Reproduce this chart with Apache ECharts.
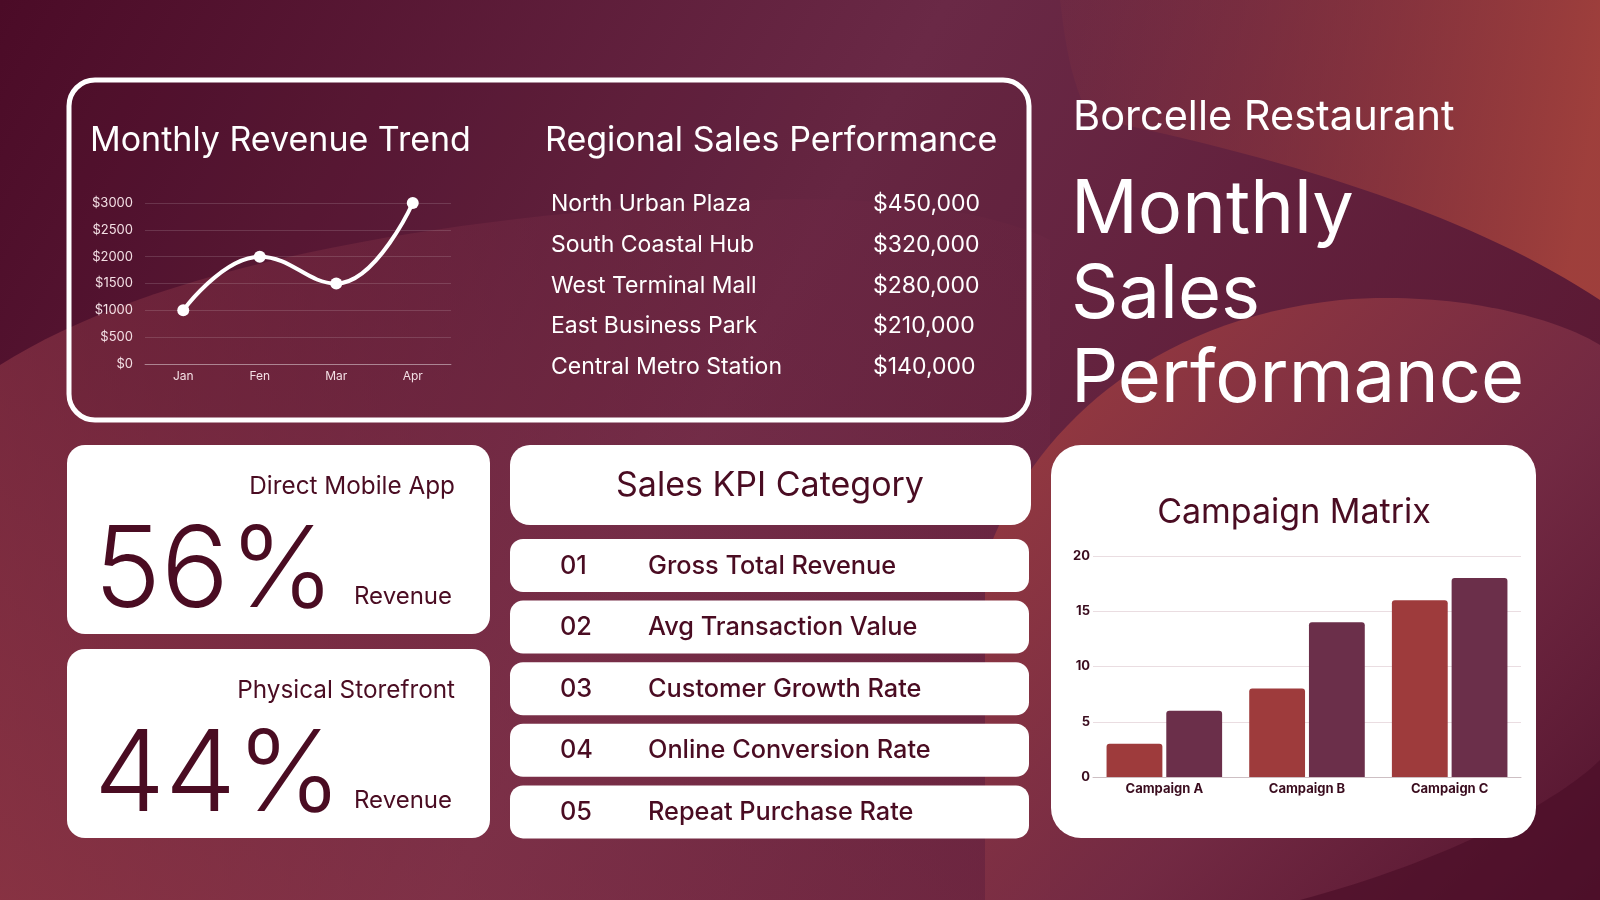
<!DOCTYPE html>
<html>
<head>
<meta charset="utf-8">
<title>Monthly Sales Performance</title>
<script src="https://cdn.jsdelivr.net/npm/echarts@6/dist/echarts.min.js"></script>
<style>
  html, body { margin: 0; padding: 0; background: #5a1a33; }
  #main { width: 1600px; height: 900px; }
</style>
</head>
<body>
<div id="main"></div>
<script>
// chart data
var months = ['Jan', 'Fen', 'Mar', 'Apr'];
var revenue = [1000, 2000, 1500, 3000];

var regions = ['North Urban Plaza', 'South Coastal Hub', 'West Terminal Mall', 'East Business Park', 'Central Metro Station'];
var regionSales = [450000, 320000, 280000, 210000, 140000];

var channels = ['Direct Mobile App', 'Physical Storefront'];
var channelShare = [56, 44];

var kpiNumbers = ['01', '02', '03', '04', '05'];
var kpiNames = ['Gross Total Revenue', 'Avg Transaction Value', 'Customer Growth Rate', 'Online Conversion Rate', 'Repeat Purchase Rate'];

var campaigns = ['Campaign A', 'Campaign B', 'Campaign C'];
var campaignRed = [3, 8, 16];
var campaignPurple = [6, 14, 18];

var FONT = 'Inter, "Noto Sans", sans-serif';
var DARK = '#4a0c22';

// simple shape for the background waves: list of [cmd, ...coords]
echarts.graphic.registerShape('wave', echarts.graphic.extendShape({
  shape: { segs: [] },
  buildPath: function (ctx, shape) {
    shape.segs.forEach(function (s) {
      if (s[0] === 'M') ctx.moveTo(s[1], s[2]);
      else if (s[0] === 'L') ctx.lineTo(s[1], s[2]);
      else if (s[0] === 'C') ctx.bezierCurveTo(s[1], s[2], s[3], s[4], s[5], s[6]);
    });
    ctx.closePath();
  }
}));

var myChart = echarts.init(document.getElementById('main'));

function txt(x, y, text, size, color, align, weight) {
  return {
    type: 'text', x: x, y: y, z: 10,
    style: {
      text: text, fill: color, fontSize: size, fontFamily: FONT,
      fontWeight: weight || 400, textAlign: align || 'left', textVerticalAlign: 'middle'
    }
  };
}
function card(x, y, w, h, r, z) {
  return { type: 'rect', z: z, shape: { x: x, y: y, width: w, height: h, r: r }, style: { fill: '#ffffff' } };
}
function wave(segs, fill, z) {
  return { type: 'wave', z: z, silent: true, shape: { segs: segs }, style: { fill: fill } };
}

var graphics = [];

// background
graphics.push({
  type: 'rect', z: -10, shape: { x: 0, y: 0, width: 1600, height: 900 },
  style: { fill: new echarts.graphic.LinearGradient(0, 0, 1, 1, [
    { offset: 0, color: '#4b0b27' },
    { offset: 0.45, color: '#6a2946' },
    { offset: 1, color: '#56142e' }
  ]) }
});
graphics.push(wave([['M', 0, 365], ['C', 150, 270, 420, 215, 760, 200], ['C', 900, 195, 1000, 215, 1050, 240], ['L', 1050, 900], ['L', 0, 900]],
  new echarts.graphic.LinearGradient(0, 1, 1, 0, [
    { offset: 0, color: 'rgba(150,58,70,0.75)' },
    { offset: 1, color: 'rgba(120,45,75,0.15)' }
  ]), -9));
graphics.push(wave([['M', 1060, 0], ['L', 1600, 0], ['L', 1600, 300], ['C', 1480, 220, 1300, 160, 1090, 118], ['C', 1070, 80, 1065, 40, 1060, 0]],
  new echarts.graphic.LinearGradient(0, 0, 1, 0.3, [
    { offset: 0, color: 'rgba(140,55,65,0.15)' },
    { offset: 1, color: 'rgba(162,65,60,0.95)' }
  ]), -9));
graphics.push(wave([['M', 985, 560], ['C', 1030, 430, 1150, 320, 1340, 300], ['C', 1460, 290, 1560, 320, 1600, 345], ['L', 1600, 900], ['L', 985, 900]],
  new echarts.graphic.LinearGradient(0, 0, 1, 1, [
    { offset: 0, color: 'rgba(160,62,62,0.95)' },
    { offset: 0.6, color: 'rgba(120,45,70,0.8)' },
    { offset: 1, color: 'rgba(80,18,45,0.95)' }
  ]), -8));
graphics.push(wave([['M', 1300, 900], ['C', 1450, 860, 1560, 800, 1600, 760], ['L', 1600, 900]], 'rgba(75,14,40,0.7)', -7));

// top outlined panel
graphics.push({
  type: 'rect', z: -2, shape: { x: 69, y: 80, width: 960, height: 340, r: 26 },
  style: { fill: 'rgba(70,15,40,0.12)', stroke: '#ffffff', lineWidth: 5 }
});
graphics.push(txt(90, 141, 'Monthly Revenue Trend', 34, '#ffffff'));
graphics.push(txt(545, 141, 'Regional Sales Performance', 34, '#ffffff'));
regions.forEach(function (name, i) {
  var y = 204 + i * 40.8;
  graphics.push(txt(551, y, name, 23, '#ffffff'));
  graphics.push(txt(873, y, '$' + regionSales[i].toLocaleString('en-US'), 23, '#ffffff'));
});

// headline
graphics.push(txt(1073, 118, 'Borcelle Restaurant', 41.5, '#ffffff'));
['Monthly', 'Sales', 'Performance'].forEach(function (w, i) {
  graphics.push(txt(1071, 211 + i * 84.5, w, 74, '#ffffff'));
});

// channel share cards
channels.forEach(function (name, i) {
  var top = 445 + i * 204;
  graphics.push(card(67, top, 423, 189, 18, -1));
  graphics.push(txt(455, top + 42, name, 24.3, DARK, 'right'));
  graphics.push(txt(94, top + 128, channelShare[i] + '%', 113, DARK, 'left', 300));
  graphics.push(txt(452, top + 152, 'Revenue', 24, DARK, 'right'));
});

// KPI list
graphics.push(card(510, 445, 521, 80, 20, -1));
graphics.push(txt(770, 486, 'Sales KPI Category', 34, DARK, 'center'));
kpiNames.forEach(function (name, i) {
  var top = 539 + i * 61.6;
  graphics.push(card(510, top, 519, 53, 13, -1));
  graphics.push(txt(560, top + 27, kpiNumbers[i], 25.3, DARK, 'left', 500));
  graphics.push(txt(648, top + 27, name, 25.3, DARK, 'left', 500));
});

// campaign card
graphics.push(card(1051, 445, 485, 393, 30, -1));
graphics.push(txt(1294, 513, 'Campaign Matrix', 34, DARK, 'center'));

var option = {
  animation: false,
  graphic: { elements: graphics },
  grid: [
    { left: 145, top: 203, width: 306, height: 161 },
    { left: 1093, top: 556, width: 428, height: 221 }
  ],
  xAxis: [
    {
      gridIndex: 0, type: 'category', data: months,
      axisLine: { lineStyle: { color: 'rgba(255,255,255,0.35)', width: 1 } },
      axisTick: { show: false },
      axisLabel: { color: '#f3dfe4', fontSize: 12, fontFamily: FONT, margin: 6 }
    },
    {
      gridIndex: 1, type: 'category', data: campaigns,
      axisLine: { lineStyle: { color: '#cdbfc3', width: 1 } },
      axisTick: { show: false },
      axisLabel: { color: '#3a0c1e', fontSize: 13, fontWeight: 'bold', fontFamily: FONT, margin: 6 }
    }
  ],
  yAxis: [
    {
      gridIndex: 0, type: 'value', min: 0, max: 3000, interval: 500,
      axisLine: { show: false }, axisTick: { show: false },
      axisLabel: { color: '#f3dfe4', fontSize: 13, fontFamily: FONT, margin: 12,
        formatter: function (v) { return '$' + v; } },
      splitLine: { lineStyle: { color: 'rgba(255,255,255,0.14)', width: 1 } }
    },
    {
      gridIndex: 1, type: 'value', min: 0, max: 20, interval: 5,
      axisLine: { show: false }, axisTick: { show: false },
      axisLabel: { color: '#3a0c1e', fontSize: 13, fontWeight: 'bold', fontFamily: FONT, margin: 3 },
      splitLine: { lineStyle: { color: '#eadde1', width: 1 } }
    }
  ],
  series: [
    {
      name: 'Revenue', type: 'line', xAxisIndex: 0, yAxisIndex: 0,
      data: revenue, smooth: 0.45,
      symbol: 'circle', symbolSize: 12,
      lineStyle: { color: '#ffffff', width: 4 },
      itemStyle: { color: '#ffffff' }
    },
    {
      name: 'Red', type: 'bar', xAxisIndex: 1, yAxisIndex: 1,
      data: campaignRed, barGap: '7%', barCategoryGap: '19%',
      itemStyle: { color: '#9e3b3c', borderRadius: [3, 3, 0, 0] }
    },
    {
      name: 'Purple', type: 'bar', xAxisIndex: 1, yAxisIndex: 1,
      data: campaignPurple, barGap: '7%', barCategoryGap: '19%',
      itemStyle: { color: '#6b2f4a', borderRadius: [3, 3, 0, 0] }
    }
  ]
};
myChart.setOption(option);
</script>
</body>
</html>
